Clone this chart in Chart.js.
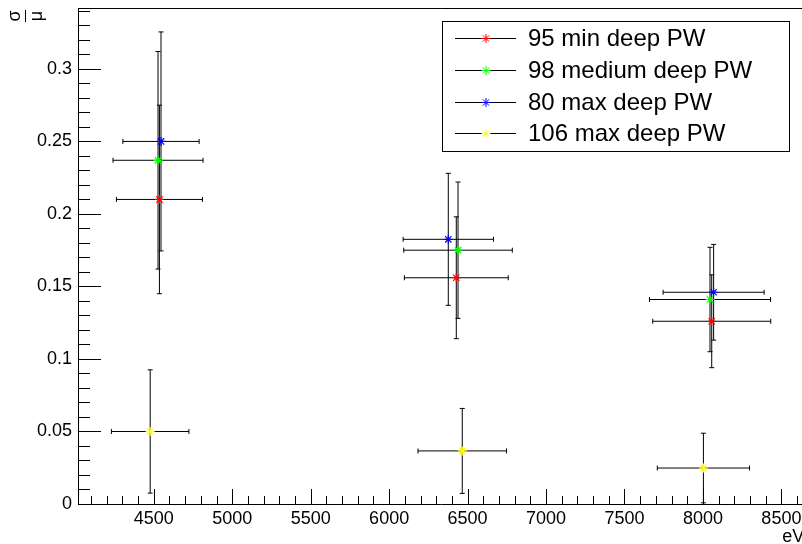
<!DOCTYPE html>
<html>
<head>
<meta charset="utf-8">
<script src="https://cdn.jsdelivr.net/npm/chart.js@4/dist/chart.umd.min.js"></script>
<style>
  html, body { margin: 0; padding: 0; background: #fff; overflow: hidden; }
  canvas { display: block; }
</style>
</head>
<body>
<canvas id="chart" width="810" height="544"></canvas>
<script>
// Series names (legend)
const seriesNames = ['95 min deep PW', '98 medium deep PW', '80 max deep PW', '106 max deep PW']

// 95 min deep PW
const minDeepX = [4536, 6428, 8056]
const minDeepY = [0.210, 0.156, 0.126]
const minDeepEX = [274, 331, 376]
const minDeepEY = [0.065, 0.042, 0.032]

// 98 medium deep PW
const mediumDeepX = [4527, 6439, 8045]
const mediumDeepY = [0.237, 0.175, 0.141]
const mediumDeepEX = [287, 346, 386]
const mediumDeepEY = [0.075, 0.047, 0.036]

// 80 max deep PW
const maxDeepX = [4546, 6377, 8068]
const maxDeepY = [0.250, 0.1825, 0.146]
const maxDeepEX = [243, 288, 322]
const maxDeepEY = [0.0755, 0.0455, 0.033]

// 106 max deep PW
const max106X = [4477, 6466, 8003]
const max106Y = [0.050, 0.0366, 0.0248]
const max106EX = [247, 282, 294]
const max106EY = [0.0425, 0.0293, 0.024]

// Ticks
const xTickValues = [4500, 5000, 5500, 6000, 6500, 7000, 7500, 8000, 8500]
const xTickLabels = ['4500', '5000', '5500', '6000', '6500', '7000', '7500', '8000', '8500']
const yTickValues = [0, 0.05, 0.1, 0.15, 0.2, 0.25, 0.3]
const yTickLabels = ['0', '0.05', '0.1', '0.15', '0.2', '0.25', '0.3']

const xs = [minDeepX, mediumDeepX, maxDeepX, max106X]
const ys = [minDeepY, mediumDeepY, maxDeepY, max106Y]
const exs = [minDeepEX, mediumDeepEX, maxDeepEX, max106EX]
const eys = [minDeepEY, mediumDeepEY, maxDeepEY, max106EY]
const colors = ['#ff0000', '#00ff00', '#0000ff', '#ffff00']

const FONT = 'Liberation Sans, Arial, Helvetica, sans-serif'

function drawStar(ctx, x, y, r, color) {
	ctx.save()
	ctx.strokeStyle = color
	ctx.lineWidth = 1
	ctx.beginPath()
	ctx.moveTo(x - r, y); ctx.lineTo(x + r, y)
	ctx.moveTo(x, y - r); ctx.lineTo(x, y + r)
	const d = r * Math.SQRT1_2
	ctx.moveTo(x - d, y - d); ctx.lineTo(x + d, y + d)
	ctx.moveTo(x - d, y + d); ctx.lineTo(x + d, y - d)
	ctx.stroke()
	ctx.restore()
}

// Barras de error (estilo ROOT)
const errorBars = {
	id: 'errorBars',
	beforeDatasetsDraw(chart) {
		const { ctx, scales: { x, y } } = chart
		const cap = 2.5
		ctx.save()
		ctx.strokeStyle = '#000'
		ctx.lineWidth = 1
		chart.data.datasets.forEach((ds, d) => {
			ds.data.forEach((p, i) => {
				const px = x.getPixelForValue(p.x)
				const py = y.getPixelForValue(p.y)
				const x0 = x.getPixelForValue(p.x - exs[d][i])
				const x1 = x.getPixelForValue(p.x + exs[d][i])
				const y0 = y.getPixelForValue(p.y - eys[d][i])
				const y1 = y.getPixelForValue(p.y + eys[d][i])
				ctx.beginPath()
				ctx.moveTo(x0, py); ctx.lineTo(x1, py)
				ctx.moveTo(x0, py - cap); ctx.lineTo(x0, py + cap)
				ctx.moveTo(x1, py - cap); ctx.lineTo(x1, py + cap)
				ctx.moveTo(px, y0); ctx.lineTo(px, y1)
				ctx.moveTo(px - cap, y0); ctx.lineTo(px + cap, y0)
				ctx.moveTo(px - cap, y1); ctx.lineTo(px + cap, y1)
				ctx.stroke()
			})
		})
		ctx.restore()
	},
}

// Marcas internas de los ejes, marco superior, leyenda y titulo Y
const rootFrame = {
	id: 'rootFrame',
	afterDraw(chart) {
		const { ctx, chartArea: a, scales: { x, y } } = chart
		ctx.save()
		ctx.strokeStyle = '#000'
		ctx.lineWidth = 1
		ctx.beginPath()
		ctx.moveTo(a.left, a.top + 0.5); ctx.lineTo(a.right, a.top + 0.5)
		for (let v = 4100; v <= x.max; v += 100) {
			const px = Math.round(x.getPixelForValue(v)) + 0.5
			const len = v % 500 === 0 ? 15 : 8
			ctx.moveTo(px, a.bottom); ctx.lineTo(px, a.bottom - len)
		}
		for (let k = 1; k / 100 <= y.max; k++) {
			const py = Math.round(y.getPixelForValue(k / 100)) + 0.5
			const len = k % 5 === 0 ? 23 : 12
			ctx.moveTo(a.left, py); ctx.lineTo(a.left + len, py)
		}
		ctx.stroke()

		// Leyenda
		ctx.fillStyle = '#fff'
		ctx.fillRect(442, 21, 347, 130)
		ctx.strokeRect(442.5, 21.5, 347, 130)
		ctx.font = '24px ' + FONT
		ctx.textBaseline = 'middle'
		ctx.textAlign = 'left'
		chart.data.datasets.forEach((ds, i) => {
			const ry = Math.round(37.7 + i * 31.9) + 0.5
			ctx.beginPath()
			ctx.moveTo(455, ry); ctx.lineTo(516, ry)
			ctx.stroke()
			drawStar(ctx, 486, ry, 4.5, colors[i])
			ctx.fillStyle = '#000'
			ctx.fillText(ds.label, 528, ry + 1)
		})

		// Titulo Y: sigma / mu
		ctx.translate(25, 16)
		ctx.rotate(-Math.PI / 2)
		ctx.font = '18px ' + FONT
		ctx.textAlign = 'center'
		ctx.fillStyle = '#000'
		ctx.fillText('σ', 0, -10)
		ctx.fillText('μ', 0, 12)
		ctx.beginPath()
		ctx.moveTo(-6, 0.5); ctx.lineTo(6, 0.5)
		ctx.stroke()
		ctx.restore()
	},
}

const datasets = seriesNames.map((name, i) => ({
	label: name,
	data: xs[i].map((v, j) => ({ x: v, y: ys[i][j] })),
	showLine: false,
	pointStyle: 'star',
	pointRadius: 4.5,
	pointBorderWidth: 1.2,
	pointBorderColor: colors[i],
	pointBackgroundColor: colors[i],
}))

const tickFont = { family: FONT, size: 18 }

new Chart(document.getElementById('chart').getContext('2d'), {
	type: 'scatter',
	data: { datasets: datasets },
	options: {
		responsive: false,
		animation: false,
		events: [],
		layout: { padding: { top: 8, right: 3, bottom: 0, left: 0 } },
		plugins: { legend: { display: false }, tooltip: { enabled: false } },
		scales: {
			x: {
				type: 'linear',
				position: 'bottom',
				min: 4017,
				max: 8646,
				afterBuildTicks: (s) => { s.ticks = xTickValues.map((v) => ({ value: v })) },
				afterFit: (s) => { s.height = 40; s.paddingLeft = 0; s.paddingRight = 0 },
				ticks: {
					callback: (v, i) => xTickLabels[i],
					font: tickFont,
					color: '#000',
					padding: 4,
					maxRotation: 0,
					autoSkip: false,
				},
				grid: { display: false, drawTicks: false },
				border: { display: true, color: '#000', width: 1 },
				title: {
					display: true,
					text: 'eV',
					align: 'end',
					color: '#000',
					font: { family: FONT, size: 18, lineHeight: 0.8 },
					padding: 0,
				},
			},
			y: {
				type: 'linear',
				min: 0,
				max: 0.342,
				afterBuildTicks: (s) => { s.ticks = yTickValues.map((v) => ({ value: v })) },
				afterFit: (s) => { s.width = 78; s.paddingTop = 0; s.paddingBottom = 0 },
				ticks: {
					callback: (v, i) => yTickLabels[i],
					font: tickFont,
					color: '#000',
					padding: 6,
				},
				grid: { display: false, drawTicks: false },
				border: { display: true, color: '#000', width: 1 },
			},
		},
	},
	plugins: [errorBars, rootFrame],
})
</script>
</body>
</html>
